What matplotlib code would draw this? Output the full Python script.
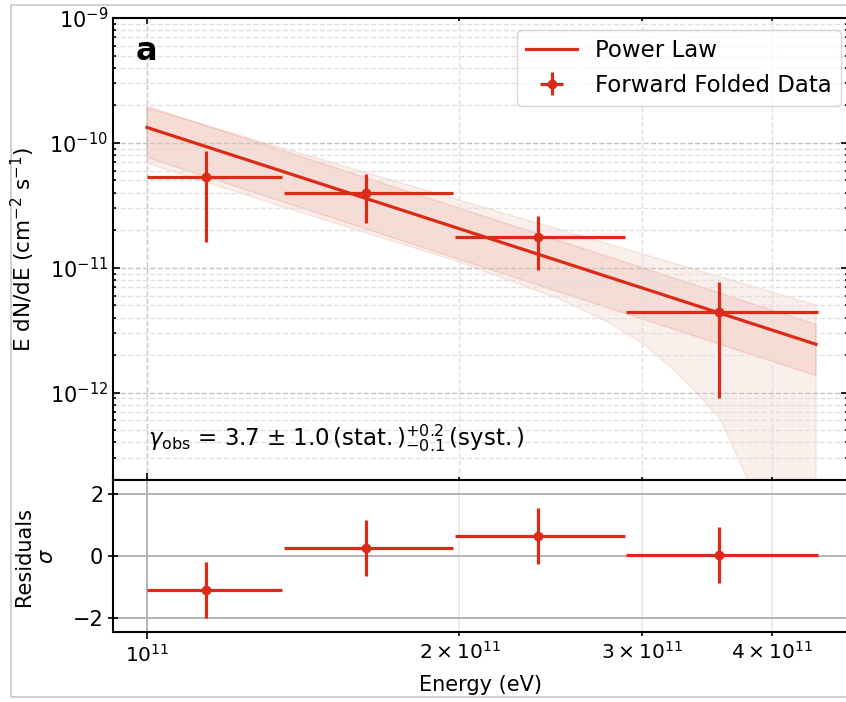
import numpy as np
import matplotlib
matplotlib.use('Agg')
import matplotlib.pyplot as plt
from matplotlib.patches import Rectangle

#################### DATA ####################
# forward folded flux points (E dN/dE in cm-2 s-1)
e_ctr = [1.141e11, 1.625e11, 2.383e11, 3.558e11]
e_lo = [1.0e11, 1.354e11, 1.979e11, 2.892e11]
e_hi = [1.348e11, 1.972e11, 2.886e11, 4.43e11]
flux = [5.29e-11, 3.98e-11, 1.78e-11, 4.40e-12]
flux_up = [8.63e-11, 5.62e-11, 2.58e-11, 7.64e-12]
flux_dn = [1.60e-11, 2.29e-11, 9.6e-12, 9.0e-13]

# residuals (sigma)
resid = [-1.09, 0.27, 0.64, 0.03]
resid_err = [0.90, 0.905, 0.895, 0.89]

# power law model (straight in log-log)
pl_E = [1.0e11, 4.41e11]
pl_F = [1.33e-10, 2.44e-12]

# inner band
band1_E = [1.0e11, 4.41e11]
band1_up = [1.96e-10, 3.52e-12]
band1_dn = [7.64e-11, 1.37e-12]

# outer band (upper edge straight, lower edge bends down)
band2_E_up = [1.0e11, 4.41e11]
band2_up = [1.90e-10, 5.03e-12]
band2_E_dn = [1.0e11, 1.404e11, 2.002e11, 2.5e11, 2.775e11, 3.0e11, 3.21e11,
              3.4e11, 3.565e11, 3.785e11, 3.95e11, 4.41e11]
band2_dn = [6.88e-11, 2.79e-11, 1.11e-11, 5.6e-12, 3.7e-12, 2.5e-12, 1.55e-12,
            9.6e-13, 6.2e-13, 2.08e-13, 2e-14, 1e-15]

gamma_txt = r'$\gamma_{\rm obs}$ = 3.7 $\pm$ 1.0$\,$(stat.$\,$)$^{+0.2}_{-0.1}\,$(syst.$\,$)'
##############################################

col = '#dc2a18'
bcol = (0.87, 0.45, 0.33)

fig = plt.figure(figsize=(8.46, 7.02), dpi=100)
x0 = 113/846.
w = (848-113)/846.
ax = fig.add_axes([x0, 1-480/702., w, (480-18)/702.])
ax2 = fig.add_axes([x0, 1-632/702., w, (632-480)/702.], sharex=ax)

# bands
ax.fill(np.r_[band2_E_up, band2_E_dn[::-1]], np.r_[band2_up, band2_dn[::-1]],
        facecolor=bcol + (0.11,), edgecolor=bcol + (0.16,), lw=1, zorder=1)
ax.fill(np.r_[band1_E, band1_E[::-1]], np.r_[band1_up, band1_dn[::-1]],
        facecolor=bcol + (0.15,), edgecolor=bcol + (0.22,), lw=1, zorder=1)

ax.plot(pl_E, pl_F, color=col, lw=2.3, label='Power Law', zorder=3)

flux = np.array(flux)
xerr = [np.array(e_ctr) - np.array(e_lo), np.array(e_hi) - np.array(e_ctr)]
yerr = [flux - np.array(flux_dn), np.array(flux_up) - flux]
ax.errorbar(e_ctr, flux, xerr=xerr, yerr=yerr, fmt='o', color=col, ms=6,
            elinewidth=2.3, capsize=0, label='Forward Folded Data', zorder=4)

ax.set_xscale('log')
ax.set_yscale('log')
ax.set_xlim(9.275e10, 4.734e11)
ax.set_ylim(2.0e-13, 1e-9)

ax.grid(which='major', ls='--', color='#c4c4c4', lw=1.0)
ax.grid(which='minor', ls='--', color='#e0e0e0', lw=1.0)
ax.tick_params(which='both', direction='in', top=True, right=True,
               labelbottom=False, labelsize=15, width=1.2)
ax.tick_params(which='major', length=5)
ax.tick_params(which='minor', length=2.5)
for s in ax.spines.values():
    s.set_linewidth(1.5)
ax.set_ylabel(r'E dN/dE (cm$^{-2}$ s$^{-1}$)', fontsize=15.5)
ax.yaxis.set_label_coords(-0.103, 0.5)

ax.text(0.031, 0.91, 'a', transform=ax.transAxes, fontsize=23,
        fontweight='bold')
ax.text(0.048, 0.075, gamma_txt, transform=ax.transAxes, fontsize=16.5)

ax.legend(loc='upper right', bbox_to_anchor=(0.9905, 0.974), borderaxespad=0,
          fontsize=16.5, fancybox=True, framealpha=0.8, handlelength=2.2)

# residual panel
ax2.errorbar(e_ctr, resid, xerr=xerr, yerr=resid_err, fmt='o', color=col,
             ms=6, elinewidth=2.3, capsize=0, zorder=4)
ax2.set_ylim(-2.45, 2.45)
ax2.set_yticks([-2, 0, 2])
ax2.grid(which='major', color='#b4b4b4', lw=1.4)
ax2.grid(which='minor', axis='x', color='#e8e8e8', lw=1.2)
ax2.tick_params(which='both', labelsize=14.5, width=1.2)
ax2.tick_params(axis='y', direction='inout', length=7, labelsize=15)
ax2.tick_params(axis='x', which='major', length=5)
ax2.tick_params(axis='x', which='minor', length=3)
for s in ax2.spines.values():
    s.set_linewidth(1.5)
ax2.set_ylabel('Residuals\n' + r'$\sigma$', fontsize=15)
ax2.yaxis.set_label_coords(-0.076, 0.5)
ax2.set_xlabel('Energy (eV)', fontsize=15, labelpad=7)

# frame around picture
fig.patches.append(Rectangle((11/846., 1-697/702.), 1.0, 692/702.,
                             transform=fig.transFigure, fill=False,
                             edgecolor='#c8c8c8', lw=1.2, zorder=-5))

plt.savefig('out.png', dpi=100)
